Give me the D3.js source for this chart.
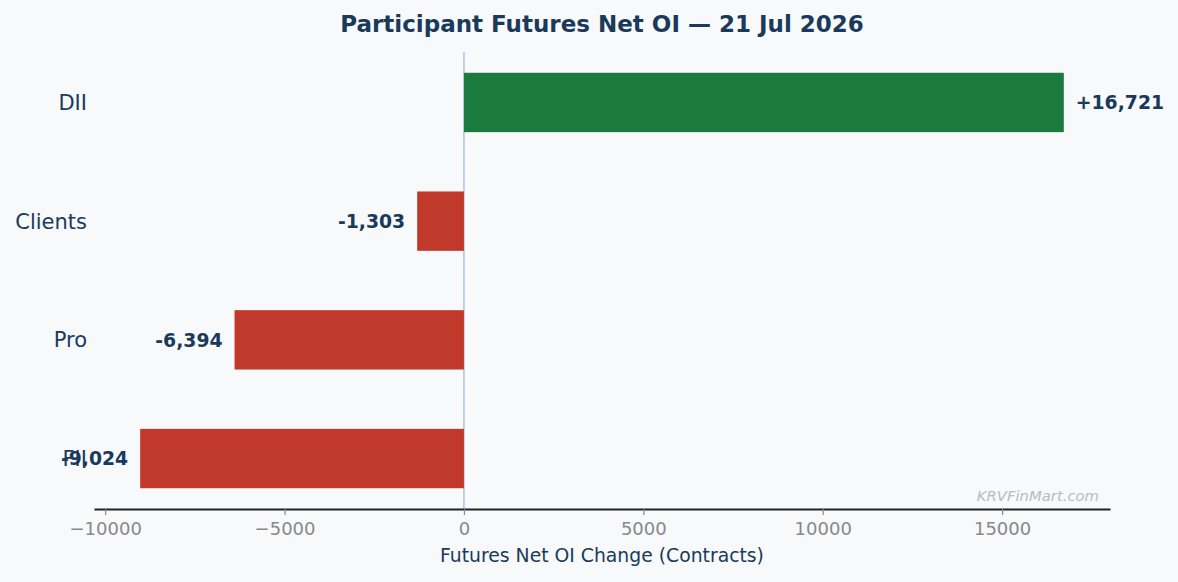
<!DOCTYPE html>
<html>
<head>
<meta charset="utf-8">
<script src="https://cdn.jsdelivr.net/npm/d3@7"></script>
<style>
  html, body { margin: 0; padding: 0; background: #f7f9fb; }
  svg { display: block; font-family: "DejaVu Sans", sans-serif; }
</style>
</head>
<body>
<div id="chart"></div>
<script>
// categories, bottom to top
const participants = ["FII", "Pro", "Clients", "DII"]
const netOI = [-9024, -6394, -1303, 16721]
const xTicks = [-10000, -5000, 0, 5000, 10000, 15000]

const width = 1178
const height = 582
const margin = { top: 52, right: 68, bottom: 73, left: 94 }
const navy = "#1a3a5c"
const font = "DejaVu Sans"

const svg = d3.select("#chart")
    .append("svg")
    .attr("width", width)
    .attr("height", height)

svg.append("rect")
    .attr("width", width)
    .attr("height", height)
    .attr("fill", "#f7f9fb")

// matplotlib style 5% margins
const lo = d3.min(netOI), hi = d3.max(netOI)
const pad = (hi - lo) * 0.05
const x = d3.scaleLinear()
    .domain([lo - pad, hi + pad])
    .range([margin.left, width - margin.right])

const y = d3.scaleLinear()
    .domain([-0.425, participants.length - 1 + 0.425])
    .range([height - margin.bottom, margin.top])

const barH = (y(0) - y(0.5))

// zero line
svg.append("line")
    .attr("x1", x(0)).attr("x2", x(0))
    .attr("y1", margin.top).attr("y2", height - margin.bottom)
    .attr("stroke", "#b3c3d3")
    .attr("stroke-width", 1.5)

svg.append("g")
    .selectAll("rect")
    .data(netOI)
    .join("rect")
    .attr("x", d => x(Math.min(0, d)))
    .attr("width", d => Math.abs(x(d) - x(0)))
    .attr("y", (d, i) => y(i) - barH / 2)
    .attr("height", barH)
    .attr("fill", d => d >= 0 ? "#1b7a3d" : "#c0392b")

// x axis
const xAxis = svg.append("g")
    .attr("transform", "translate(0," + (height - margin.bottom) + ")")
    .call(d3.axisBottom(x).tickValues(xTicks).tickSizeInner(6).tickSizeOuter(0).tickPadding(7)
        .tickFormat(d => d < 0 ? "\u2212" + Math.abs(d) : String(d)))
    .attr("font-family", font)
xAxis.select(".domain").attr("stroke", "#222").attr("stroke-width", 2)
xAxis.selectAll(".tick line").attr("stroke", "#888").attr("stroke-width", 1.2)
xAxis.selectAll(".tick text")
    .attr("fill", "#888")
    .attr("font-size", "18px")

// y labels (no axis line)
svg.append("g")
    .selectAll("text")
    .data(participants)
    .join("text")
    .attr("x", margin.left - 7)
    .attr("y", (d, i) => y(i))
    .attr("dy", "0.36em")
    .attr("text-anchor", "end")
    .attr("fill", navy)
    .attr("font-size", "21px")
    .text(d => d)

// value labels
svg.append("g")
    .selectAll("text")
    .data(netOI)
    .join("text")
    .attr("x", d => d >= 0 ? x(d) + 12 : x(d) - 12)
    .attr("y", (d, i) => y(i))
    .attr("dy", "0.36em")
    .attr("text-anchor", d => d >= 0 ? "start" : "end")
    .attr("fill", navy)
    .attr("font-weight", "bold")
    .attr("font-size", "18.8px")
    .text(d => (d >= 0 ? "+" : "-") + d3.format(",")(Math.abs(d)))

// title
svg.append("text")
    .attr("x", (margin.left + width - margin.right) / 2)
    .attr("y", 32)
    .attr("text-anchor", "middle")
    .attr("fill", navy)
    .attr("font-weight", "bold")
    .attr("font-size", "23px")
    .text("Participant Futures Net OI \u2014 21 Jul 2026")

// x label
svg.append("text")
    .attr("x", (margin.left + width - margin.right) / 2)
    .attr("y", 562)
    .attr("text-anchor", "middle")
    .attr("fill", navy)
    .attr("font-size", "18.8px")
    .text("Futures Net OI Change (Contracts)")

// watermark
svg.append("text")
    .attr("x", 1099)
    .attr("y", 501)
    .attr("text-anchor", "end")
    .attr("fill", "#bbbbbb")
    .attr("font-style", "italic")
    .attr("font-size", "14.8px")
    .text("KRVFinMart.com")
</script>
</body>
</html>
